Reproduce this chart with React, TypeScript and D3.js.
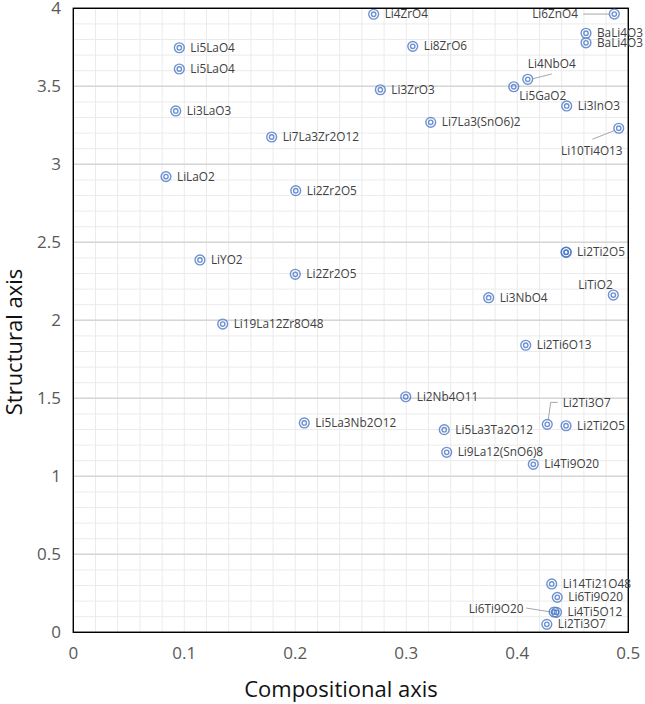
import React from "react";
import * as d3 from "d3";

const names = [
  "Li4ZrO4", "Li5LaO4", "Li5LaO4", "Li8ZrO6", "Li6ZnO4", "BaLi4O3", "BaLi4O3",
  "Li4NbO4", "Li5GaO2", "Li3ZrO3", "Li3LaO3", "Li3InO3", "Li7La3(SnO6)2",
  "Li10Ti4O13", "Li7La3Zr2O12", "LiLaO2", "Li2Zr2O5", "Li2Ti2O5", "LiYO2",
  "Li2Zr2O5", "LiTiO2", "Li3NbO4", "Li19La12Zr8O48", "Li2Ti6O13", "Li2Nb4O11",
  "Li5La3Nb2O12", "Li2Ti3O7", "Li2Ti2O5", "Li5La3Ta2O12", "Li9La12(SnO6)8",
  "Li4Ti9O20", "Li14Ti21O48", "Li6Ti9O20", "Li4Ti5O12", "Li6Ti9O20", "Li2Ti3O7",
  "",
];
const xs = [
  0.2706, 0.0955, 0.0955, 0.3058, 0.4874, 0.4619, 0.4619,
  0.4094, 0.3968, 0.2766, 0.0923, 0.4445, 0.322,
  0.4914, 0.1787, 0.0835, 0.2004, 0.4439, 0.1141,
  0.2, 0.4865, 0.3742, 0.1346, 0.4076, 0.2995,
  0.2081, 0.427, 0.4439, 0.3342, 0.3364,
  0.4144, 0.431, 0.436, 0.4353, 0.4332, 0.4266,
  0.4441,
];
const ys = [
  3.962, 3.747, 3.611, 3.756, 3.963, 3.84, 3.779,
  3.545, 3.497, 3.478, 3.342, 3.374, 3.269,
  3.231, 3.175, 2.921, 2.831, 2.436, 2.387,
  2.295, 2.162, 2.145, 1.976, 1.84, 1.51,
  1.342, 1.333, 1.324, 1.299, 1.154,
  1.077, 0.31, 0.224, 0.128, 0.13, 0.051,
  2.437,
];
const xTicks = [0, 0.1, 0.2, 0.3, 0.4, 0.5];
const yTicks = [0, 0.5, 1, 1.5, 2, 2.5, 3, 3.5, 4];
const xTitle = "Compositional axis";
const yTitle = "Structural axis";

// label layout (pixel offsets from marker), default: right of marker
type Place = { dx: number; dy: number; anchor?: string; leader?: [number, number][] };
const placements: Record<number, Place> = {
  4: { dx: -36.3, dy: 0, anchor: "end", leader: [[-31, 0], [-5, 0]] },
  7: { dx: 24, dy: -15, anchor: "middle", leader: [[5.3, -0.6], [24, -5.3]] },
  8: { dx: 5.6, dy: 9 },
  13: { dx: -57.7, dy: 22.7, leader: [[-26.4, 11], [-4.7, 2.4]] },
  20: { dx: -0.6, dy: -10, anchor: "end" },
  26: { dx: 15.4, dy: -21.8, leader: [[1, -4.5], [3.4, -22], [10.4, -22]] },
  34: { dx: -30.7, dy: -3, anchor: "end", leader: [[-28, -4], [-3, 0]] },
};

const W = 645, H = 704;
const L = 73.3, R = 628.3, T = 8.3, B = 632.3;
const FONT = "'Open Sans', 'DejaVu Sans', sans-serif";

export default function App() {
  const x = d3.scaleLinear().domain([0, 0.5]).range([L, R]);
  const y = d3.scaleLinear().domain([0, 4]).range([B, T]);
  const xMinor = d3.range(0, 0.5001, 0.02);
  const yMinor = d3.range(0, 4.0001, 0.1);
  const line = d3.line();

  return (
    <svg width={W} height={H} style={{ position: "absolute", left: 0, top: 0, background: "#fff" }}>
      <rect x={0} y={0} width={W} height={H} fill="#fff" />
      {xMinor.map((v, i) => (
        <line key={"xv" + i} x1={x(v)} x2={x(v)} y1={T} y2={B} stroke="#ebebeb" strokeWidth={1} />
      ))}
      {yMinor.map((v, i) => (
        <line key={"yh" + i} x1={L} x2={R} y1={y(v)} y2={y(v)} stroke="#ebebeb" strokeWidth={1} />
      ))}
      {yTicks.map((v, i) => (
        <line key={"ym" + i} x1={L} x2={R} y1={y(v)} y2={y(v)} stroke="#d6d6d6" strokeWidth={1.6} />
      ))}
      <rect x={L} y={T} width={R - L} height={B - T} fill="none" stroke="#000" strokeWidth={1.4} />
      {yTicks.map((v, i) => (
        <text key={"yt" + i} x={61} y={y(v)} dy="0.36em" textAnchor="end" fontFamily={FONT} fontSize={17} fill="#595959">
          {String(v)}
        </text>
      ))}
      {xTicks.map((v, i) => (
        <text key={"xt" + i} x={x(v)} y={659} textAnchor="middle" fontFamily={FONT} fontSize={17} fill="#595959">
          {String(v)}
        </text>
      ))}
      <text x={341} y={697} textAnchor="middle" fontFamily={FONT} fontSize={22} fill="#111">
        {xTitle}
      </text>
      <text transform={`translate(22,342) rotate(-90)`} textAnchor="middle" fontFamily={FONT} fontSize={22} fill="#111">
        {yTitle}
      </text>
      {names.map((n, i) => {
        const p = placements[i];
        if (!p || !p.leader) return null;
        const cx = x(xs[i]), cy = y(ys[i]);
        const pts = p.leader.map(([a, b]) => [cx + a, cy + b] as [number, number]);
        return <path key={"ld" + i} d={line(pts) || ""} fill="none" stroke="#a6a6a6" strokeWidth={1} />;
      })}
      {names.map((n, i) => (
        <g key={"m" + i} transform={`translate(${x(xs[i])},${y(ys[i])})`} fill="none" stroke="#4472c4" strokeOpacity={0.78} strokeWidth={1.4}>
          <circle r={4.9} />
          <circle r={2.2} />
        </g>
      ))}
      {names.map((n, i) => {
        if (!n) return null;
        const p = placements[i] || { dx: 11, dy: 0 };
        return (
          <text key={"l" + i} x={x(xs[i]) + p.dx} y={y(ys[i]) + p.dy} dy="0.35em" textAnchor={p.anchor || "start"} fontFamily={FONT} fontSize={11.8} fill="#404040">
            {n}
          </text>
        );
      })}
    </svg>
  );
}
